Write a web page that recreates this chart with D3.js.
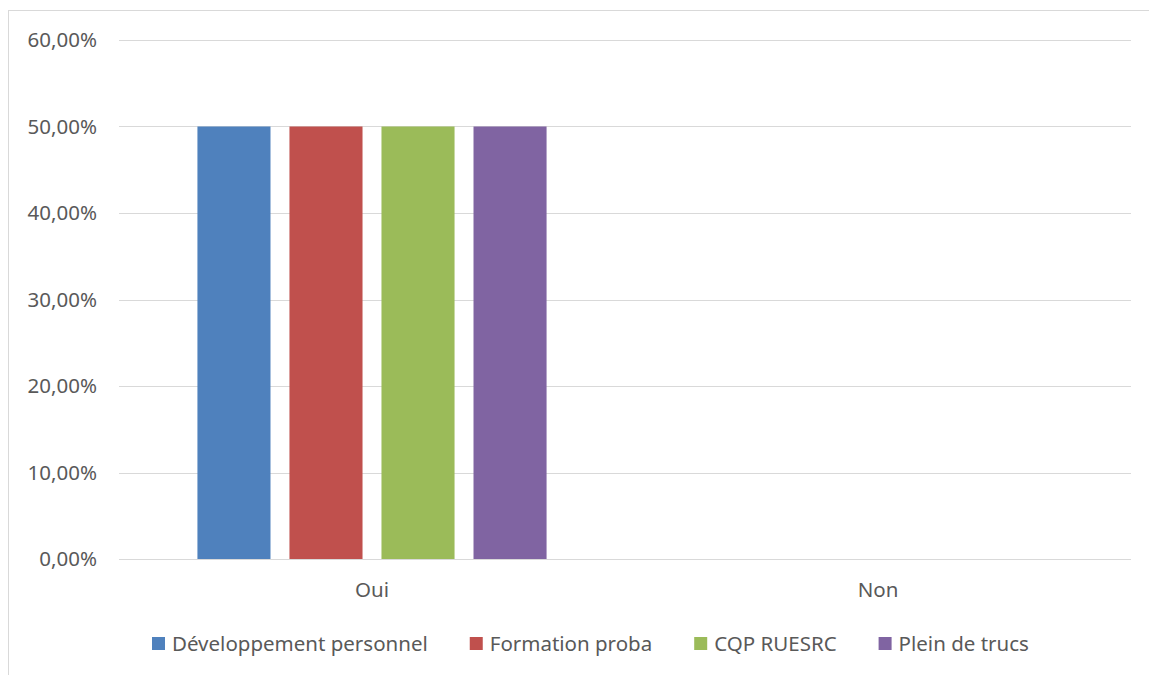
<!DOCTYPE html>
<html>
<head>
<meta charset="utf-8">
<script src="https://cdn.jsdelivr.net/npm/d3@7"></script>
<style>
  body { margin: 0; background: #fff; }
  text { font-family: "Noto Sans", sans-serif; fill: #595959; }
</style>
</head>
<body>
<svg id="chart" width="1149" height="675"></svg>
<script>
var categories = ["Oui", "Non"];
var series = ["Développement personnel", "Formation proba", "CQP RUESRC", "Plein de trucs"];
var values = {
  "Développement personnel": [0.5, 0],
  "Formation proba": [0.5, 0],
  "CQP RUESRC": [0.5, 0],
  "Plein de trucs": [0.5, 0]
};
var colors = ["#4F81BD", "#C0504D", "#9BBB59", "#8064A2"];
var yTicks = [0, 0.1, 0.2, 0.3, 0.4, 0.5, 0.6];

var plotLeft = 119, plotRight = 1131, plotTop = 40, plotBottom = 559;
var fontSize = 20.5;

var svg = d3.select("#chart");

// chart frame
svg.append("rect")
  .attr("x", 8.5).attr("y", 10.5)
  .attr("width", 1160).attr("height", 700)
  .attr("fill", "none")
  .attr("stroke", "#d9d9d9");

var y = d3.scaleLinear().domain([0, 0.6]).range([plotBottom, plotTop]);
var x0 = d3.scaleBand().domain(categories).range([plotLeft, plotRight]);
var bw = x0.bandwidth();
var groupPad = bw * 0.155;
var x1 = d3.scaleBand().domain(series)
  .range([groupPad, bw - groupPad])
  .paddingInner(0.206);

var fmt = function(d) { return d3.format(".2f")(d * 100).replace(".", ",") + "%"; };

// grid
svg.append("g").selectAll("line")
  .data(yTicks)
  .enter().append("line")
  .attr("x1", plotLeft).attr("x2", plotRight)
  .attr("y1", function(d) { return Math.round(y(d)) + 0.5; })
  .attr("y2", function(d) { return Math.round(y(d)) + 0.5; })
  .attr("stroke", "#d9d9d9")
  .attr("stroke-width", 1);

svg.append("g").selectAll("text")
  .data(yTicks)
  .enter().append("text")
  .attr("x", 97)
  .attr("y", function(d) { return y(d); })
  .attr("dy", "0.35em")
  .attr("text-anchor", "end")
  .style("font-size", fontSize + "px")
  .text(fmt);

// bars
var groups = svg.append("g").selectAll("g")
  .data(categories)
  .enter().append("g")
  .attr("transform", function(d) { return "translate(" + x0(d) + ",0)"; });

groups.selectAll("rect")
  .data(function(c, ci) {
    return series.map(function(s, si) { return { s: s, v: values[s][ci], i: si }; });
  })
  .enter().append("rect")
  .attr("x", function(d) { return x1(d.s); })
  .attr("width", x1.bandwidth())
  .attr("y", function(d) { return y(d.v); })
  .attr("height", function(d) { return y(0) - y(d.v); })
  .attr("fill", function(d) { return colors[d.i]; });

// category labels
svg.append("g").selectAll("text")
  .data(categories)
  .enter().append("text")
  .attr("x", function(d) { return x0(d) + bw / 2; })
  .attr("y", 590)
  .attr("dy", "0.35em")
  .attr("text-anchor", "middle")
  .style("font-size", fontSize + "px")
  .text(function(d) { return d; });

// legend
var legend = svg.append("g");
var lx = 152;
series.forEach(function(s, i) {
  legend.append("rect")
    .attr("x", lx).attr("y", 637)
    .attr("width", 13).attr("height", 13)
    .attr("fill", colors[i]);
  var t = legend.append("text")
    .attr("x", lx + 20).attr("y", 644)
    .attr("dy", "0.35em")
    .style("font-size", fontSize + "px")
    .text(s);
  lx += 20 + t.node().getComputedTextLength() + 42;
});
</script>
</body>
</html>
